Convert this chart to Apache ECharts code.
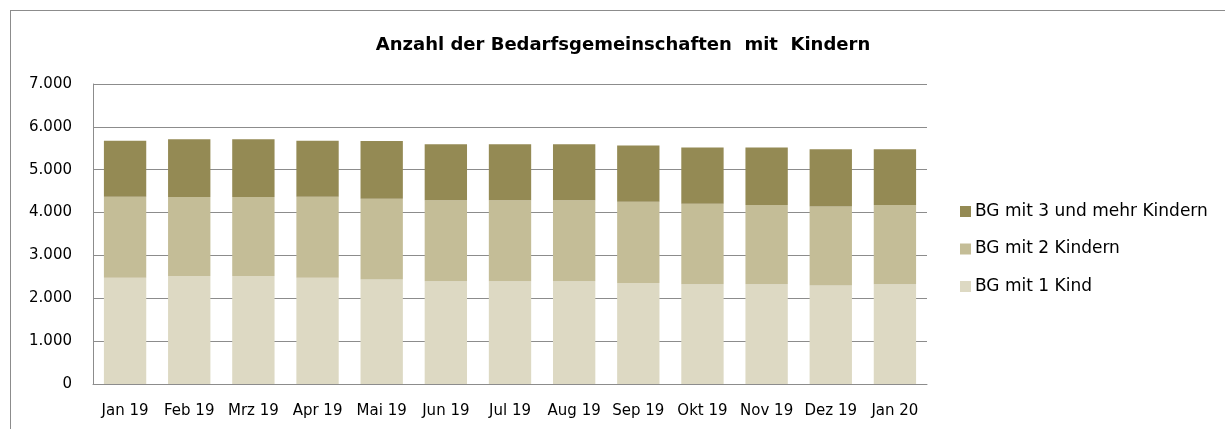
<!DOCTYPE html>
<html>
<head>
<meta charset="utf-8">
<script src="https://cdn.jsdelivr.net/npm/echarts@6/dist/echarts.min.js"></script>
<style>
html,body{margin:0;padding:0;background:#fff;}
#frame{position:absolute;left:10px;top:10px;width:1230px;height:430px;border:1px solid #8c8c8c;box-sizing:border-box;}
#chart{position:absolute;left:0;top:0;width:1225px;height:429px;}
</style>
</head>
<body>
<div id="frame"></div>
<div id="chart"></div>
<script>
const categories = ['Jan 19','Feb 19','Mrz 19','Apr 19','Mai 19','Jun 19','Jul 19','Aug 19','Sep 19','Okt 19','Nov 19','Dez 19','Jan 20'];
const seriesNames = ['BG mit 1 Kind','BG mit 2 Kindern','BG mit 3 und mehr Kindern'];
const bg1 = [2480, 2520, 2520, 2480, 2440, 2400, 2400, 2400, 2355, 2330, 2330, 2300, 2330];
const bg2 = [1890, 1845, 1845, 1890, 1880, 1890, 1890, 1890, 1895, 1875, 1845, 1840, 1845];
const bg3 = [1305, 1345, 1345, 1305, 1350, 1305, 1305, 1305, 1315, 1315, 1345, 1340, 1305];
const yTicks = [0, 1000, 2000, 3000, 4000, 5000, 6000, 7000];
const colors = ['#DDD9C3', '#C4BD97', '#948A54'];

const FONT = '"DejaVu Sans", sans-serif';
const chart = echarts.init(document.getElementById('chart'), null, {renderer: 'canvas'});
const mk = (name, data, color) => ({
  name, type: 'bar', stack: 'total', data, barCategoryGap: '34%',
  itemStyle: {color}, emphasis: {disabled: true}
});
chart.setOption({
  animation: false,
  backgroundColor: 'transparent',
  title: {
    text: 'Anzahl der Bedarfsgemeinschaften  mit  Kindern',
    left: 618, top: 31, textAlign: 'center',
    textStyle: {fontFamily: FONT, fontWeight: 'bold', fontSize: 18, color: '#000'}
  },
  legend: {
    orient: 'vertical', left: 955, top: 198, itemGap: 20.5,
    itemWidth: 11, itemHeight: 11, icon: 'rect',
    data: [seriesNames[2], seriesNames[1], seriesNames[0]],
    textStyle: {fontFamily: FONT, fontSize: 17, color: '#000', padding: [0,0,0,-1]}
  },
  grid: {left: 93, right: 298, top: 84, bottom: 45, containLabel: false},
  xAxis: {
    type: 'category', data: categories,
    axisLine: {lineStyle: {color: '#8c8c8c', width: 1}},
    axisTick: {show: false},
    axisLabel: {fontFamily: FONT, fontSize: 15, color: '#000', margin: 20, interval: 0}
  },
  yAxis: {
    type: 'value', min: 0, max: 7000, interval: 1000,
    axisLine: {show: true, lineStyle: {color: '#8c8c8c', width: 1}},
    axisTick: {show: false},
    splitLine: {lineStyle: {color: '#8c8c8c', width: 1}},
    axisLabel: {
      fontFamily: FONT, fontSize: 15, color: '#000', margin: 21,
      formatter: v => yTicks.includes(v) ? (v === 0 ? '0' : (v/1000) + '.000') : ''
    }
  },
  series: [mk(seriesNames[0], bg1, colors[0]), mk(seriesNames[1], bg2, colors[1]), mk(seriesNames[2], bg3, colors[2])]
});
</script>
</body>
</html>
